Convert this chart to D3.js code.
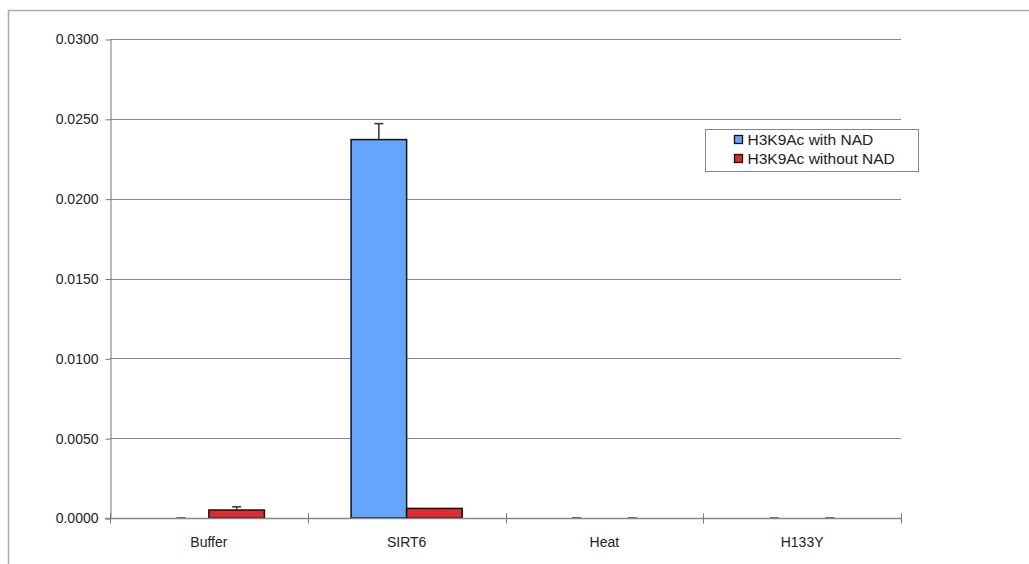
<!DOCTYPE html>
<html>
<head>
<meta charset="utf-8">
<script src="https://cdn.jsdelivr.net/npm/d3@7"></script>
<style>
  body { margin: 0; background: #fff; }
  svg { display: block; font-family: "Liberation Sans", Arial, sans-serif; }
</style>
</head>
<body>
<svg id="chart" width="1029" height="564"></svg>
<script>
// Categories and series
const categories = ["Buffer", "SIRT6", "Heat", "H133Y"];
const seriesNames = ["H3K9Ac with NAD", "H3K9Ac without NAD"];
const withNAD = [0.0000, 0.0237, 0.0000, 0.0000];
const withNADErr = [0.0000, 0.0010, 0.0000, 0.0000];
const withoutNAD = [0.0005, 0.0006, 0.0000, 0.0000];
const withoutNADErr = [0.0002, 0.0000, 0.0000, 0.0000];
const yTicks = [0, 0.005, 0.01, 0.015, 0.02, 0.025, 0.03];
const colors = ["#63a6fb", "#de2b30"];

const svg = d3.select("#chart");

// Outer frame
svg.append("path")
  .attr("d", "M8.5,564 V10.5 H1029")
  .attr("fill", "none").attr("stroke", "#aaa").attr("stroke-width", 1.5);

const plotLeft = 110, plotRight = 901, plotTop = 39, plotBottom = 518;

const x = d3.scaleBand().domain(categories).range([plotLeft, plotRight]);
const x1 = d3.scaleBand().domain([0, 1]).range([0, x.bandwidth()]).paddingOuter(0.78);
const y = d3.scaleLinear().domain([0, 0.03]).range([plotBottom, plotTop]);

// Gridlines
svg.append("g").selectAll("line").data(yTicks.slice(1)).join("line")
  .attr("x1", plotLeft).attr("x2", plotRight)
  .attr("y1", d => Math.round(y(d)) + 0.5).attr("y2", d => Math.round(y(d)) + 0.5)
  .attr("stroke", "#888").attr("stroke-width", 1);

// Y axis
const yAxis = svg.append("g").attr("transform", `translate(${plotLeft + 0.5},0.5)`)
  .call(d3.axisLeft(y).tickValues(yTicks).tickFormat(d3.format(".4f")).tickSize(5).tickSizeOuter(0));
yAxis.select(".domain").attr("stroke", "#777");
yAxis.selectAll(".tick line").attr("stroke", "#777");
yAxis.selectAll(".tick text").attr("font-size", 14).attr("fill", "#222").attr("x", -12)
  .attr("font-family", "Liberation Sans, Arial, sans-serif");

// Bars
const groups = svg.append("g").selectAll("g").data(categories).join("g")
  .attr("transform", d => `translate(${x(d)},0)`);

const series = [
  { vals: withNAD, errs: withNADErr },
  { vals: withoutNAD, errs: withoutNADErr }
];

series.forEach((s, si) => {
  groups.each(function(cat, ci) {
    const g = d3.select(this);
    const v = s.vals[ci], e = s.errs[ci];
    const bx = x1(si), bw = x1.bandwidth();
    if (v > 0) {
      g.append("rect")
        .attr("x", bx).attr("y", y(v))
        .attr("width", bw).attr("height", y(0) - y(v))
        .attr("fill", colors[si]).attr("stroke", "#111").attr("stroke-width", 1.5);
    }
    // Error bar
    const cx = bx + bw / 2;
    const yTop = y(v + e);
    if (e > 0) {
      g.append("line").attr("x1", cx).attr("x2", cx)
        .attr("y1", y(v)).attr("y2", yTop)
        .attr("stroke", "#333").attr("stroke-width", 1.5);
    }
    if (e > 0 || v === 0) {
      g.append("line").attr("x1", cx - 4.5).attr("x2", cx + 4.5)
        .attr("y1", yTop).attr("y2", yTop)
        .attr("stroke", "#333").attr("stroke-width", 1.5);
    }
  });
});

// X axis
const xAxis = svg.append("g").attr("transform", `translate(0,${plotBottom + 0.5})`);
xAxis.append("line").attr("x1", plotLeft - 5).attr("x2", plotRight).attr("y1", 0).attr("y2", 0)
  .attr("stroke", "#888").attr("stroke-width", 1.5);
const bounds = categories.map(c => x(c)).concat([plotRight]);
xAxis.selectAll(".tk").data(bounds).join("line")
  .attr("x1", d => Math.round(d) + 0.5).attr("x2", d => Math.round(d) + 0.5)
  .attr("y1", -5).attr("y2", 5).attr("stroke", "#777");
xAxis.selectAll("text").data(categories).join("text")
  .attr("x", d => x(d) + x.bandwidth() / 2).attr("y", 28)
  .attr("text-anchor", "middle").attr("font-size", 14).attr("fill", "#222")
  .text(d => d);

// Legend
const lg = svg.append("g").attr("transform", "translate(705.5,129.5)");
lg.append("rect").attr("width", 213).attr("height", 42)
  .attr("fill", "#fff").attr("stroke", "#888");
seriesNames.forEach((n, i) => {
  const yy = 10 + i * 19;
  lg.append("rect").attr("x", 29).attr("y", yy - 4).attr("width", 8).attr("height", 8)
    .attr("fill", colors[i]).attr("stroke", "#111").attr("stroke-width", 1.3);
  lg.append("text").attr("x", 42).attr("y", yy + 5.5)
    .attr("font-size", 15.5).attr("fill", "#222").text(n);
});
</script>
</body>
</html>
